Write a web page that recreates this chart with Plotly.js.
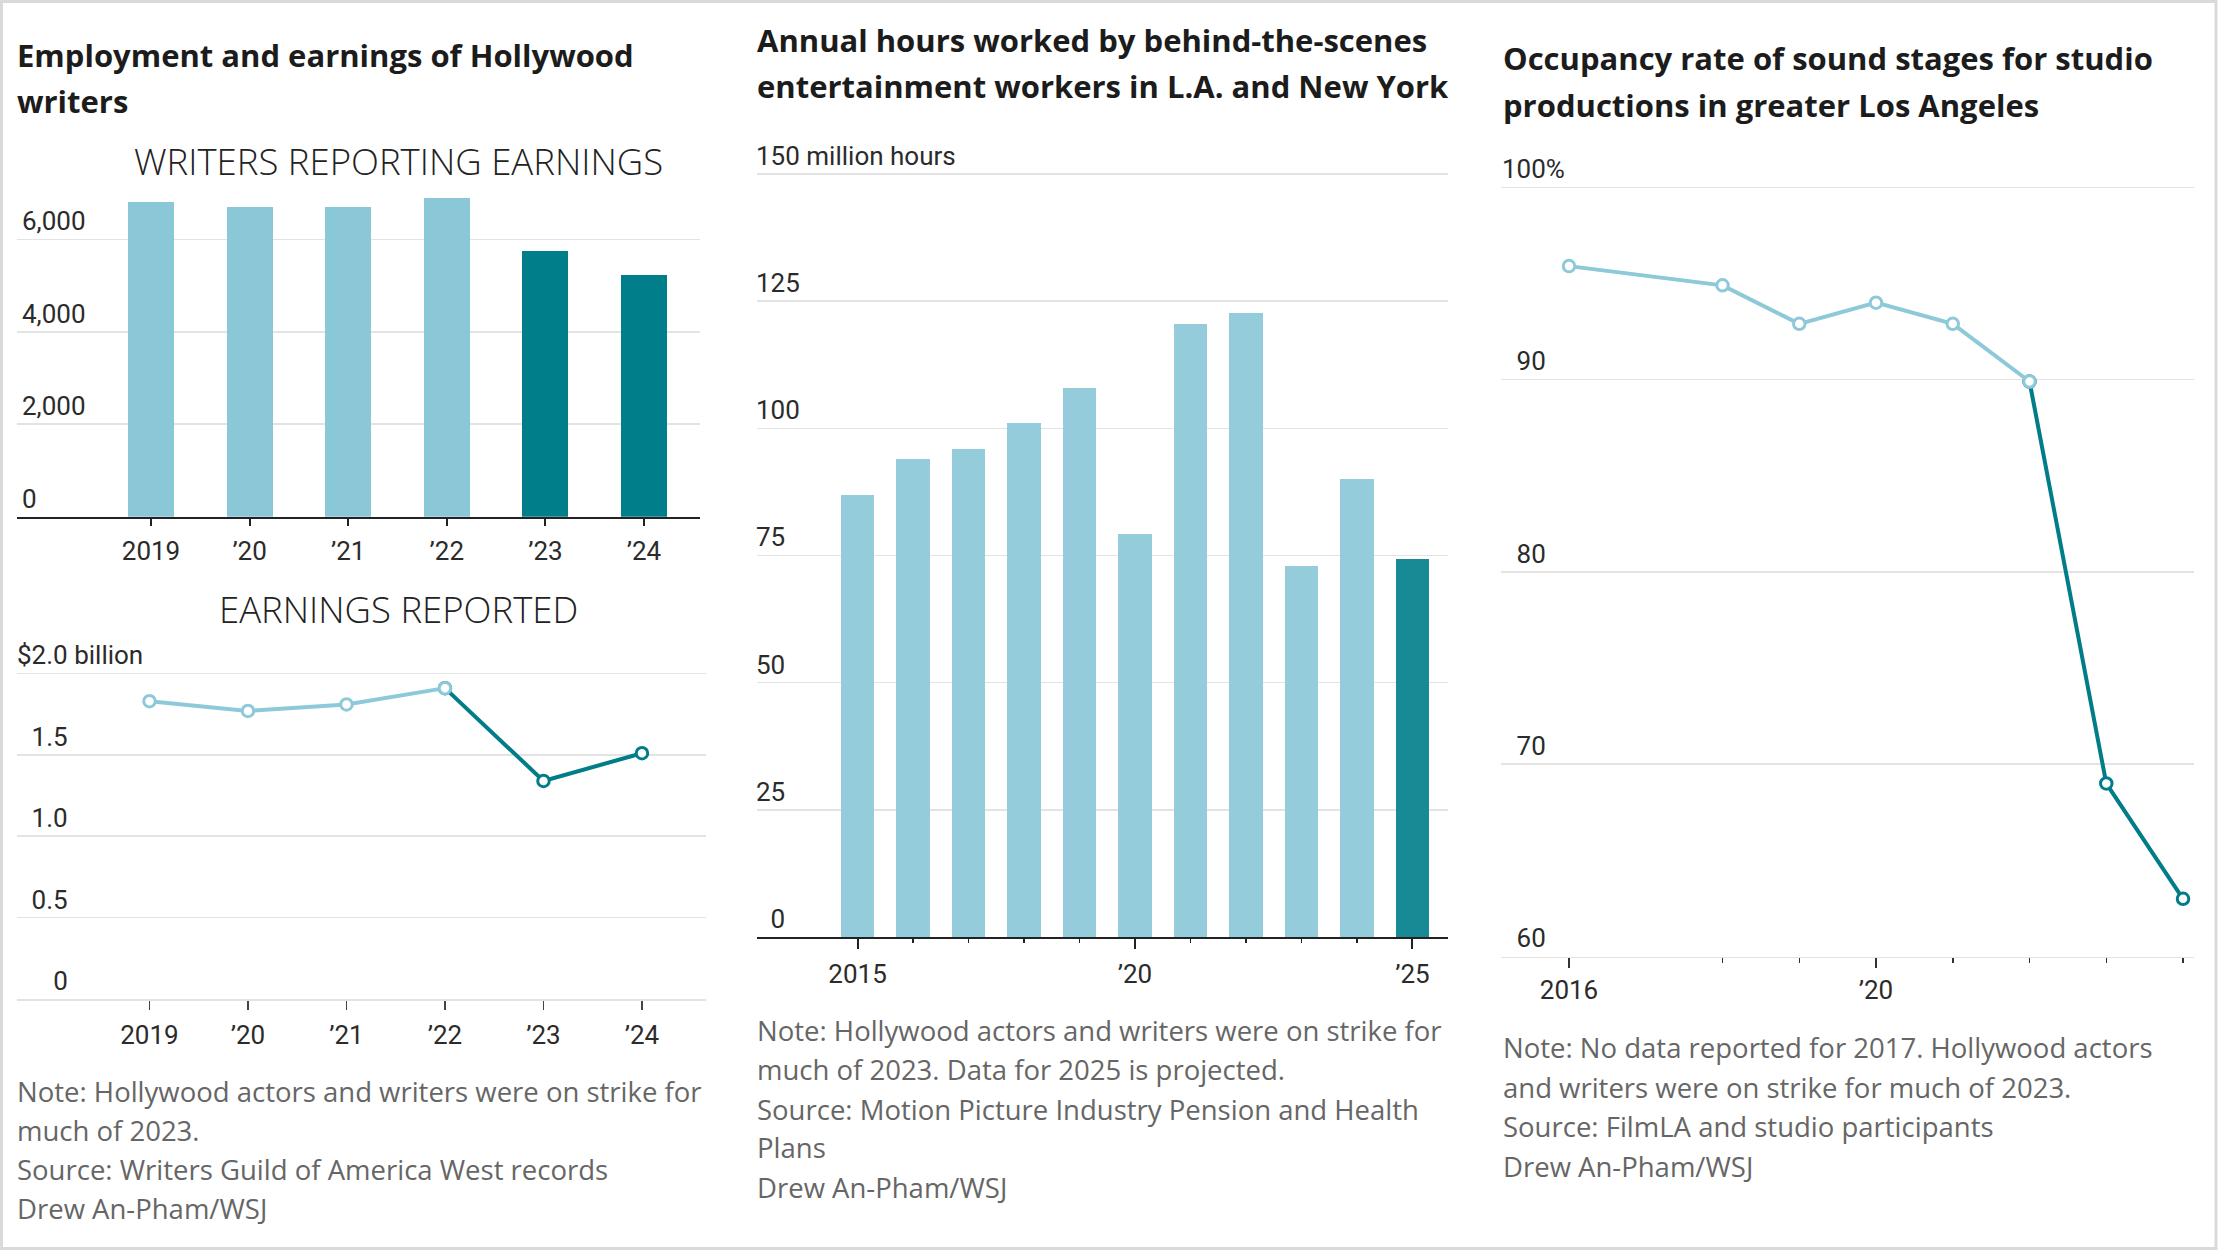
<!DOCTYPE html>
<html>
<head>
<meta charset="utf-8">
<script src="https://cdn.plot.ly/plotly-3.0.1.min.js"></script>
<style>
  html, body { margin: 0; padding: 0; background: #ffffff; }
  #chart { width: 2218px; height: 1250px; }
</style>
</head>
<body>
<div id="chart"></div>
<script>
// ---------------- DATA ----------------
const writerYears = [2019, 2020, 2021, 2022, 2023, 2024];
const writerYearLabels = ['2019', '\u201920', '\u201921', '\u201922', '\u201923', '\u201924'];
const writersReportingEarnings = [6810, 6690, 6700, 6900, 5750, 5220];
const earningsReportedBillions = [1.83, 1.77, 1.81, 1.91, 1.34, 1.51];
const writersTickVals = [0, 2000, 4000, 6000];
const writersTickText = ['0', '2,000', '4,000', '6,000'];
const earningsTickVals = [0, 0.5, 1.0, 1.5, 2.0];
const earningsTickText = ['\u2007\u2007\u20080', '\u20070.5', '\u20071.0', '\u20071.5', '$2.0 billion'];

const hoursYears = [2015, 2016, 2017, 2018, 2019, 2020, 2021, 2022, 2023, 2024, 2025];
const hoursWorkedMillions = [86.9, 94.0, 95.9, 101.0, 108.0, 79.3, 120.6, 122.6, 73.0, 90.1, 74.3];
const hoursTickVals = [0, 25, 50, 75, 100, 125, 150];
const hoursTickText = ['\u20070', '25', '50', '75', '100', '125', '150 million hours'];
const hoursMajorYears = [2015, 2020, 2025];
const hoursMajorLabels = ['2015', '\u201920', '\u201925'];
const projectedYear = 2025;

const occupancyYears = [2016, 2018, 2019, 2020, 2021, 2022, 2023, 2024];
const occupancyRate = [95.9, 94.9, 92.9, 94.0, 92.9, 89.9, 69.0, 63.0];
const occupancyTickVals = [60, 70, 80, 90, 100];
const occupancyTickText = ['\u200760', '\u200770', '\u200780', '\u200790', '100%'];
const occupancyMajorYears = [2016, 2020];
const occupancyMajorLabels = ['2016', '\u201920'];

const strikeYear = 2023;

// ---------------- LAYOUT HELPERS ----------------
const W = 2218, H = 1250;
const hd = (a, b) => [a / W, b / W];
const vd = (top, bottom) => [1 - bottom / H, 1 - top / H];
const PX = x => x / W;
const PY = y => 1 - y / H;

const LIGHT = '#8AC7D7';
const DARK = '#007F8B';
const LIGHT_MID = '#95CCDB';
const DARK_MID = '#178A96';
const LINE_LIGHT = '#8DC9D8';
const LINE_DARK = '#007D88';
const GRID = '#e3e3e3';

const NUM_FONT = { family: 'Roboto, "Noto Sans", sans-serif', size: 26, color: '#2b2b2b' };
const TITLE_FONT = { family: '"Open Sans", "Noto Sans", sans-serif', size: 31, color: '#1c1c1c', weight: 700 };
const SUB_FONT = { family: '"Open Sans", "Noto Sans", sans-serif', size: 36.5, color: '#222222', weight: 300 };
const NOTE_FONT = { family: '"Open Sans", "Noto Sans", sans-serif', size: 27.5, color: '#666666' };

// ---------------- TRACES ----------------
const traces = [];

traces.push({
  type: 'bar', x: writerYears, y: writersReportingEarnings,
  xaxis: 'x', yaxis: 'y', width: 0.4665,
  marker: { color: writerYears.map(y => y >= strikeYear ? DARK : LIGHT), line: { width: 0 } },
  hoverinfo: 'skip'
});

const lightIdx = writerYears.map((y, i) => i).filter(i => writerYears[i] < strikeYear);
const darkIdx = writerYears.map((y, i) => i).filter(i => writerYears[i] >= strikeYear - 1);
const MARKER_L = { symbol: 'circle', size: 11.5, color: '#ffffff', line: { color: LINE_LIGHT, width: 3 } };
const MARKER_D = { symbol: 'circle', size: 11.5, color: '#ffffff', line: { color: LINE_DARK, width: 3 } };

traces.push({
  type: 'scatter', mode: 'lines+markers', xaxis: 'x2', yaxis: 'y2', cliponaxis: false,
  x: darkIdx.map(i => writerYears[i]), y: darkIdx.map(i => earningsReportedBillions[i]),
  line: { color: LINE_DARK, width: 4 }, marker: MARKER_D, hoverinfo: 'skip'
});
traces.push({
  type: 'scatter', mode: 'lines+markers', xaxis: 'x2', yaxis: 'y2', cliponaxis: false,
  x: lightIdx.map(i => writerYears[i]), y: lightIdx.map(i => earningsReportedBillions[i]),
  line: { color: LINE_LIGHT, width: 4 }, marker: MARKER_L, hoverinfo: 'skip'
});

traces.push({
  type: 'bar', x: hoursYears, y: hoursWorkedMillions,
  xaxis: 'x3', yaxis: 'y3', width: 0.612,
  marker: { color: hoursYears.map(y => y === projectedYear ? DARK_MID : LIGHT_MID), line: { width: 0 } },
  hoverinfo: 'skip'
});

const occLight = occupancyYears.map((y, i) => i).filter(i => occupancyYears[i] < strikeYear);
const occDark = occupancyYears.map((y, i) => i).filter(i => occupancyYears[i] >= strikeYear - 1);
traces.push({
  type: 'scatter', mode: 'lines+markers', xaxis: 'x4', yaxis: 'y4', cliponaxis: false,
  x: occDark.map(i => occupancyYears[i]), y: occDark.map(i => occupancyRate[i]),
  line: { color: LINE_DARK, width: 4 }, marker: MARKER_D, hoverinfo: 'skip'
});
traces.push({
  type: 'scatter', mode: 'lines+markers', xaxis: 'x4', yaxis: 'y4', cliponaxis: false,
  x: occLight.map(i => occupancyYears[i]), y: occLight.map(i => occupancyRate[i]),
  line: { color: LINE_LIGHT, width: 4 }, marker: MARKER_L, hoverinfo: 'skip'
});

// empty traces so the label-only overlay y axes are drawn
[['x', 'y5'], ['x2', 'y6'], ['x3', 'y7'], ['x4', 'y8']].forEach(p => {
  traces.push({ type: 'scatter', mode: 'markers', x: [], y: [], xaxis: p[0], yaxis: p[1], hoverinfo: 'skip' });
});

// ---------------- AXES ----------------
// grid-only base y axes (traces live here; x axes anchor to them)
const gridY = {
  tickmode: 'array', ticks: '', showticklabels: false,
  showgrid: true, gridcolor: GRID, gridwidth: 1.5, zeroline: false, showline: false,
  fixedrange: true, automargin: false
};
// label-only overlay y axes: a free axis at the plot's left edge whose labels
// run rightwards and sit just above each grid line
const labelY = {
  tickmode: 'array', ticklabelposition: 'outside top', ticks: '', side: 'right', anchor: 'free',
  showgrid: false, zeroline: false, showline: false,
  tickfont: NUM_FONT, fixedrange: true, automargin: false
};
const baseX = {
  tickmode: 'array', ticks: 'outside', showgrid: false, zeroline: false,
  tickfont: NUM_FONT, fixedrange: true, automargin: false, showline: true,
  ticklabelstandoff: 3
};

const rW = [0, 7000], rE = [0, 2.25], rH = [0, 158], rO = [60, 102.5];

const layout = {
  width: W, height: H,
  margin: { l: 0, r: 0, t: 0, b: 0, pad: 0 },
  paper_bgcolor: '#ffffff', plot_bgcolor: 'rgba(0,0,0,0)',
  showlegend: false, bargap: 0,

  xaxis: Object.assign({}, baseX, {
    domain: hd(17, 700), range: [2017.641, 2024.568], anchor: 'y',
    tickvals: writerYears, ticktext: writerYearLabels,
    ticklen: 7, tickwidth: 2, tickcolor: '#222222', linecolor: '#222222', linewidth: 2
  }),
  yaxis: Object.assign({}, gridY, { domain: vd(193.1, 516.7), range: rW, anchor: 'x', tickvals: writersTickVals }),
  yaxis5: Object.assign({}, labelY, { overlaying: 'y', position: PX(21), range: rW, tickvals: writersTickVals, ticktext: writersTickText }),

  xaxis2: Object.assign({}, baseX, {
    domain: hd(17, 706), range: [2017.655, 2024.65], anchor: 'y2',
    tickvals: writerYears, ticktext: writerYearLabels,
    ticklen: 9, tickwidth: 1.5, tickcolor: '#444444', linecolor: GRID, linewidth: 1.5
  }),
  yaxis2: Object.assign({}, gridY, { domain: vd(632.8, 999), range: rE, anchor: 'x2', tickvals: earningsTickVals }),
  yaxis6: Object.assign({}, labelY, { overlaying: 'y2', position: PX(16), range: rE, tickvals: earningsTickVals, ticktext: earningsTickText }),

  xaxis3: Object.assign({}, baseX, {
    domain: hd(757, 1448), range: [2013.189, 2025.64], anchor: 'y3',
    tickvals: hoursMajorYears, ticktext: hoursMajorLabels,
    ticklen: 10, tickwidth: 2, tickcolor: '#222222', linecolor: '#222222', linewidth: 2,
    minor: { tickmode: 'array', tickvals: hoursYears.filter(y => !hoursMajorYears.includes(y)),
             ticks: 'outside', ticklen: 4, tickwidth: 1.5, tickcolor: '#222222', showgrid: false }
  }),
  yaxis3: Object.assign({}, gridY, { domain: vd(133.3, 937), range: rH, anchor: 'x3', tickvals: hoursTickVals }),
  yaxis7: Object.assign({}, labelY, { overlaying: 'y3', position: PX(755), range: rH, tickvals: hoursTickVals, ticktext: hoursTickText }),

  xaxis4: Object.assign({}, baseX, {
    domain: hd(1501, 2194), range: [2015.114, 2024.143], anchor: 'y4',
    tickvals: occupancyMajorYears, ticktext: occupancyMajorLabels, ticklabelstandoff: 0,
    ticklen: 10, tickwidth: 2, tickcolor: '#333333', linecolor: GRID, linewidth: 1.5,
    minor: { tickmode: 'array', tickvals: occupancyYears.filter(y => !occupancyMajorYears.includes(y)),
             ticks: 'outside', ticklen: 5, tickwidth: 1.5, tickcolor: '#333333', showgrid: false }
  }),
  yaxis4: Object.assign({}, gridY, { domain: vd(139.2, 956.5), range: rO, anchor: 'x4', tickvals: occupancyTickVals }),
  yaxis8: Object.assign({}, labelY, { overlaying: 'y4', position: PX(1501), range: rO, tickvals: occupancyTickVals, ticktext: occupancyTickText }),

  shapes: [{
    type: 'rect', xref: 'paper', yref: 'paper',
    x0: 1.5 / W, x1: 1 - 2 / W, y0: 1.5 / H, y1: 1 - 1.5 / H,
    line: { color: '#dadada', width: 3 }, fillcolor: 'rgba(0,0,0,0)', layer: 'above'
  }],
  annotations: []
};

function addText(text, x, y, font, xanchor) {
  layout.annotations.push({
    text: text, xref: 'paper', yref: 'paper', x: PX(x), y: PY(y),
    xanchor: xanchor || 'left', yanchor: 'middle', showarrow: false,
    font: font, borderpad: 0, borderwidth: 0, align: xanchor === 'center' ? 'center' : 'left'
  });
}

// Titles
addText('Employment and earnings of Hollywood', 17, 55.5, TITLE_FONT);
addText('writers', 17, 100.8, TITLE_FONT);
addText('Annual hours worked by behind-the-scenes', 757, 40.5, TITLE_FONT);
addText('entertainment workers in L.A. and New York', 757, 86.2, TITLE_FONT);
addText('Occupancy rate of sound stages for studio', 1503, 58.2, TITLE_FONT);
addText('productions in greater Los Angeles', 1503, 104.5, TITLE_FONT);

// Panel subtitles
addText('WRITERS REPORTING EARNINGS', 398, 161, SUB_FONT, 'center');
addText('EARNINGS REPORTED', 398, 608.5, SUB_FONT, 'center');

// Notes
[['Note: Hollywood actors and writers were on strike for', 1091],
 ['much of 2023.', 1130],
 ['Source: Writers Guild of America West records', 1169.6],
 ['Drew An-Pham/WSJ', 1208]].forEach(l => addText(l[0], 17, l[1], NOTE_FONT));
[['Note: Hollywood actors and writers were on strike for', 1030],
 ['much of 2023. Data for 2025 is projected.', 1069],
 ['Source: Motion Picture Industry Pension and Health', 1109],
 ['Plans', 1147],
 ['Drew An-Pham/WSJ', 1187]].forEach(l => addText(l[0], 757, l[1], NOTE_FONT));
[['Note: No data reported for 2017. Hollywood actors', 1047.5],
 ['and writers were on strike for much of 2023.', 1087],
 ['Source: FilmLA and studio participants', 1126.5],
 ['Drew An-Pham/WSJ', 1166]].forEach(l => addText(l[0], 1503, l[1], NOTE_FONT));

Plotly.newPlot('chart', traces, layout, { staticPlot: true, displayModeBar: false });
</script>
</body>
</html>
